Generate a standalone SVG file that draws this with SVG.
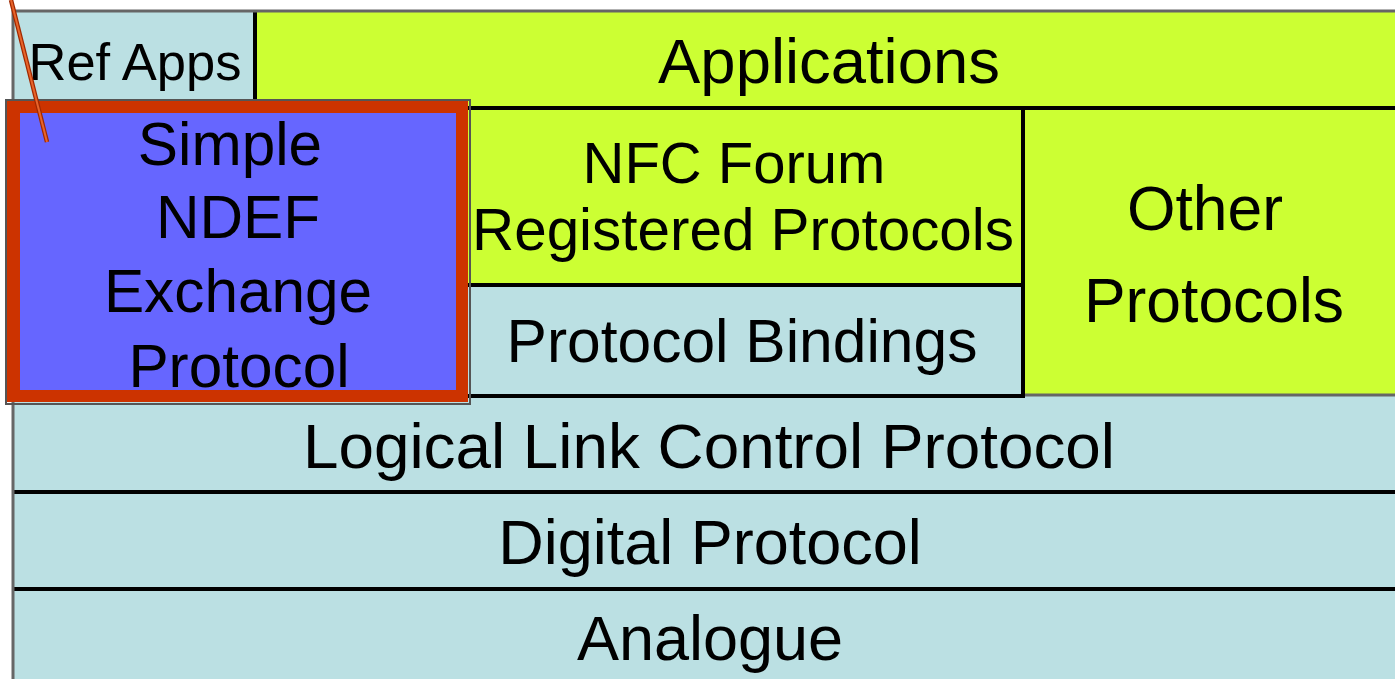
<svg xmlns="http://www.w3.org/2000/svg" width="1395" height="679" viewBox="0 0 1395 679">
<style>
text{font-family:"Liberation Sans",Arial,sans-serif;fill:#000;text-anchor:middle}
.blue{fill:#BBE0E3}
.yel{fill:#CCFF33}
.ln{stroke:#000;stroke-width:4;fill:none}
.gl{stroke:#666;stroke-width:3;fill:none}
</style>
<rect width="1395" height="679" fill="#fff"/>
<g id="analogue">
<rect class="blue" x="14" y="589" width="1381" height="90"/>
<text x="710" y="660" font-size="63">Analogue</text>
</g>
<g id="digital">
<rect class="blue" x="14" y="492" width="1381" height="97"/>
<line class="ln" x1="14" y1="589" x2="1395" y2="589"/>
<text x="710" y="564" font-size="63">Digital Protocol</text>
</g>
<g id="llcp">
<rect class="blue" x="14" y="396" width="1381" height="96"/>
<line class="ln" x1="14" y1="492" x2="1395" y2="492"/>
<text x="709" y="468" font-size="63.8">Logical Link Control Protocol</text>
</g>
<g id="other">
<rect class="yel" x="1023" y="108" width="372" height="287"/>
<line class="gl" x1="1023" y1="395" x2="1395" y2="395"/>
<text x="1205" y="230" font-size="62.4">Other</text>
<text x="1214" y="322" font-size="62.4">Protocols</text>
</g>
<g id="bindings">
<rect class="blue" x="468" y="285" width="555" height="111"/>
<line class="ln" x1="468" y1="396" x2="1023" y2="396"/>
<text x="742" y="362" font-size="60.5">Protocol Bindings</text>
</g>
<g id="nfc">
<rect class="yel" x="468" y="108" width="555" height="177"/>
<line class="ln" x1="468" y1="285" x2="1023" y2="285"/>
<line class="ln" x1="1023" y1="108" x2="1023" y2="398"/>
<text x="734" y="183" font-size="58">NFC Forum</text>
<text x="743" y="250" font-size="58.4">Registered Protocols</text>
</g>
<g id="applications">
<rect class="yel" x="255" y="12" width="1140" height="96"/>
<line class="ln" x1="255" y1="108" x2="1395" y2="108"/>
<text x="829" y="83" font-size="63.4">Applications</text>
</g>
<g id="refapps">
<rect class="blue" x="14" y="12" width="241" height="88"/>
<line class="ln" x1="255" y1="12" x2="255" y2="101"/>
<text x="135" y="80" font-size="52.5">Ref Apps</text>
</g>
<g id="frame">
<line class="gl" x1="12" y1="11" x2="1395" y2="11"/>
<line class="gl" x1="13" y1="10" x2="13" y2="679"/>
</g>
<g id="ndef">
<rect x="6" y="100" width="464" height="304" fill="none" stroke="#555" stroke-width="2"/>
<rect x="7" y="101" width="461" height="301" fill="#CC3300"/>
<rect x="20" y="113" width="436" height="277" fill="#6666FF"/>
<text x="230" y="165" font-size="60.3">Simple</text>
<text x="238" y="238" font-size="60.3">NDEF</text>
<text x="238" y="312" font-size="60.3">Exchange</text>
<text x="239" y="387" font-size="60.3">Protocol</text>
</g>
<g id="connectors">
<line x1="11" y1="0" x2="47" y2="142" stroke="#A02800" stroke-width="4.5"/>
<line x1="11" y1="0" x2="47" y2="142" stroke="#E8642A" stroke-width="2"/>
</g>
</svg>
